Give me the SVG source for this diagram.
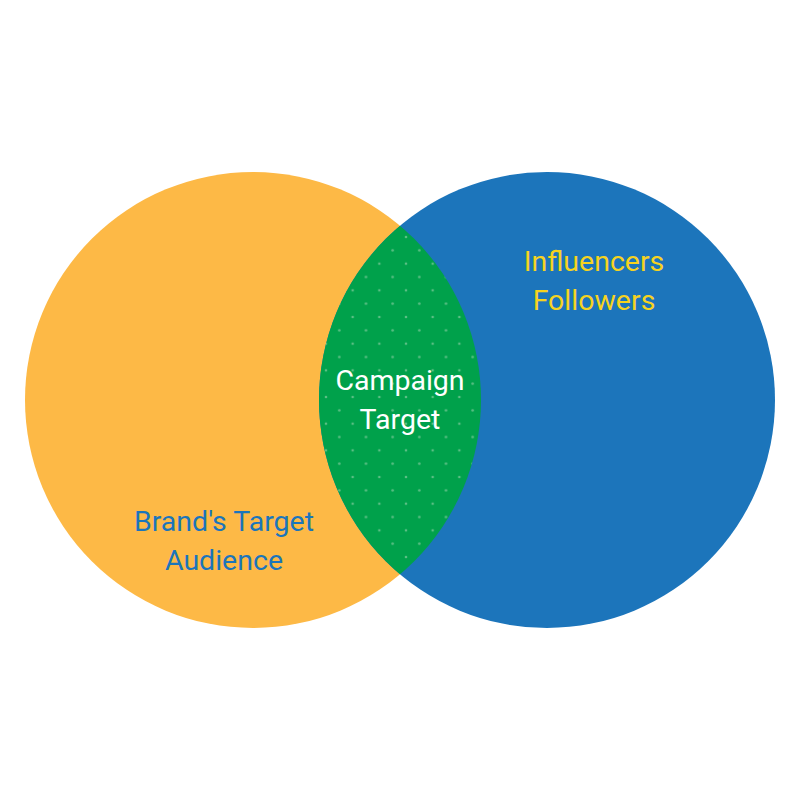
<svg xmlns="http://www.w3.org/2000/svg" width="800" height="800" viewBox="0 0 800 800">
<style>.t{font-family:Roboto,"Liberation Sans",sans-serif;font-size:28.5px;text-anchor:middle}</style>
<defs>
<pattern id="dots" patternUnits="userSpaceOnUse" x="406" y="237" width="26.67" height="26.67">
<circle cx="0" cy="0" r="1.3" fill="#5cbf85"/><circle cx="26.67" cy="0" r="1.3" fill="#5cbf85"/><circle cx="0" cy="26.67" r="1.3" fill="#5cbf85"/><circle cx="26.67" cy="26.67" r="1.3" fill="#5cbf85"/>
<circle cx="13.33" cy="13.33" r="1.3" fill="#5cbf85"/>
</pattern>
<clipPath id="cl"><circle cx="253" cy="400" r="228"/></clipPath>
</defs>
<rect width="800" height="800" fill="#fff"/>
<g id="brand"><circle cx="253" cy="400" r="228" fill="#fdb946"/><text class="t" x="224" y="531" fill="#1b75bb">Brand's Target</text><text class="t" x="224" y="570" fill="#1b75bb">Audience</text></g>
<g id="influencers"><circle cx="547" cy="400" r="228" fill="#1c75bb"/><text class="t" x="594" y="271" fill="#f6d31f">Influencers</text><text class="t" x="594" y="310" fill="#f6d31f">Followers</text></g>
<g id="campaign"><g clip-path="url(#cl)"><circle cx="547" cy="400" r="228" fill="#00a14b"/><circle cx="547" cy="400" r="228" fill="url(#dots)"/></g>
<text class="t" x="400" y="390" fill="#fff">Campaign</text><text class="t" x="400" y="429" fill="#fff">Target</text></g>
<g id="connectors"/>
</svg>
